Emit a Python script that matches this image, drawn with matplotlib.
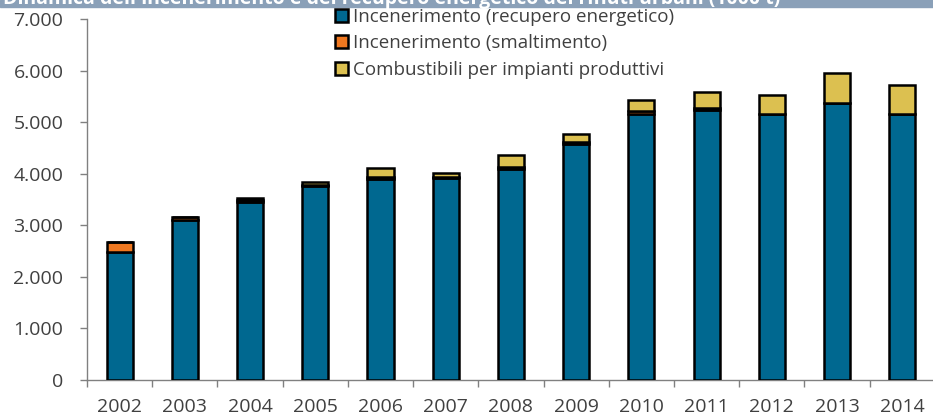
import numpy as np
import matplotlib
matplotlib.use('Agg')
from matplotlib import pyplot as plt
from matplotlib.ticker import FuncFormatter, FixedLocator

# dati (1000 t)
anni = ['2002', '2003', '2004', '2005', '2006', '2007', '2008',
        '2009', '2010', '2011', '2012', '2013', '2014']
recupero = [2490, 3100, 3450, 3760, 3900, 3920, 4100, 4570, 5150, 5230, 5160, 5380, 5150]
smaltimento = [190, 70, 40, 30, 30, 20, 30, 40, 70, 40, 0, 0, 0]
combustibili = [0, 0, 30, 40, 190, 80, 230, 160, 210, 320, 370, 580, 570]

etichette = ['Incenerimento (recupero energetico)',
             'Incenerimento (smaltimento)',
             'Combustibili per impianti produttivi']
colori = ['#006890', '#F07820', '#DCC050']

plt.rcParams['font.family'] = ['Open Sans', 'DejaVu Sans']
grigio = '#404040'

fig = plt.figure(figsize=(9.33, 4.17), dpi=100)
ax = fig.add_axes([87 / 933, 1 - 380 / 417, 1 - 87 / 933 + 0.002, (380 - 19) / 417])

x = np.arange(len(anni))
base = np.zeros(len(anni))
for serie, col, lab in zip([recupero, smaltimento, combustibili], colori, etichette):
    ax.bar(x, serie, 0.4, bottom=base, color=col, edgecolor='black',
           linewidth=1.8, label=lab, zorder=3)
    base = base + np.array(serie)

ax.set_xlim(-0.5, len(anni) - 0.5)
ax.set_ylim(0, 7000)
ax.set_yticks(range(0, 7001, 1000))
ax.yaxis.set_major_formatter(FuncFormatter(lambda v, p: f'{int(v):,}'.replace(',', '.')))

ax.set_xticks(x)
ax.set_xticklabels(anni)
ax.xaxis.set_minor_locator(FixedLocator(np.arange(-0.5, len(anni), 1.0)))
ax.tick_params(axis='x', which='major', length=0, pad=13, labelsize=14, labelcolor=grigio)
ax.tick_params(axis='x', which='minor', length=5, width=1, color='#808080')
ax.tick_params(axis='y', length=5, width=1, color='#808080', pad=12,
               labelsize=14, labelcolor=grigio)

for s in ['top', 'right']:
    ax.spines[s].set_visible(False)
for s in ['left', 'bottom']:
    ax.spines[s].set_color('#808080')
    ax.spines[s].set_linewidth(1)

leg = fig.legend(loc='upper left', bbox_to_anchor=(335 / 933, 1 - 8 / 417),
                 frameon=False, fontsize=13.5, handlelength=0.7, handleheight=0.7,
                 handletextpad=0.25, labelspacing=0.45, borderpad=0, borderaxespad=0)
for t in leg.get_texts():
    t.set_color(grigio)

# fascia del titolo (tagliata in alto)
fig.patches.append(plt.Rectangle((0, 1 - 7 / 417), 1, 7 / 417, transform=fig.transFigure,
                                 color='#8AA0B8', zorder=0))
fig.text(0.003, 1 - 4 / 417, "Dinamica dell'incenerimento e del recupero energetico dei rifiuti urbani (1000 t)",
         color='white', fontsize=14, fontweight='bold', va='baseline', ha='left')

fig.savefig('out.png', dpi=100)
